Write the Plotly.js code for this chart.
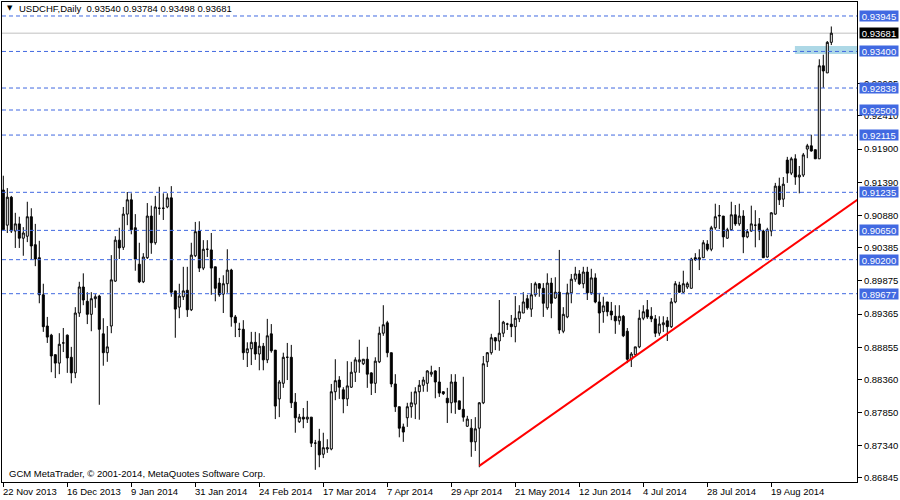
<!DOCTYPE html>
<html>
<head>
<meta charset="utf-8">
<script src="https://cdn.plot.ly/plotly-3.0.1.min.js"></script>
<style>
html,body{margin:0;padding:0;background:#fff;}
#chart{width:900px;height:500px;}
</style>
</head>
<body>
<div id="chart"></div>
<script>
// ---- Data: USDCHF daily bars, 22 Nov 2013 .. 2 Sep 2014 ----
const opens = [
0.9127,0.9073,0.9116,0.9064,0.9075,0.9053,0.9056,0.9086,0.9043,0.9023,
0.8966,0.8918,0.8904,0.8874,0.8861,0.8892,0.8904,0.8870,0.8846,0.8938,
0.8978,0.8956,0.8936,0.8960,0.8964,0.8906,0.8877,0.8918,0.8987,0.9050,
0.9039,0.9090,0.9112,0.9069,0.9013,0.8986,0.9023,0.9087,0.9046,0.9099,
0.9099,0.9101,0.9115,0.8972,0.8947,0.8963,0.8973,0.8943,0.9026,0.9064,
0.9007,0.9036,0.9035,0.9009,0.8984,0.8967,0.8983,0.9004,0.8932,0.8913,
0.8913,0.8877,0.8883,0.8893,0.8875,0.8887,0.8866,0.8906,0.8881,0.8806,
0.8830,0.8870,0.8870,0.8801,0.8771,0.8778,0.8775,0.8778,0.8738,0.8741,
0.8721,0.8729,0.8729,0.8817,0.8835,0.8820,0.8806,0.8824,0.8847,0.8863,
0.8860,0.8867,0.8846,0.8830,0.8863,0.8907,0.8923,0.8877,0.8829,0.8794,
0.8763,0.8777,0.8794,0.8798,0.8817,0.8827,0.8830,0.8844,0.8849,0.8832,
0.8817,0.8807,0.8800,0.8832,0.8803,0.8790,0.8764,0.8761,0.8740,0.8761,
0.8800,0.8863,0.8877,0.8900,0.8895,0.8907,0.8921,0.8921,0.8917,0.8929,
0.8938,0.8960,0.8944,0.8966,0.8983,0.8976,0.8946,0.8984,0.8961,0.8970,
0.8910,0.8932,0.8969,0.8990,0.8998,0.8983,0.9001,0.8969,0.8992,0.8955,
0.8940,0.8955,0.8941,0.8933,0.8926,0.8933,0.8910,0.8867,0.8874,0.8886,
0.8930,0.8943,0.8933,0.8929,0.8907,0.8920,0.8926,0.8917,0.8955,0.8981,
0.8970,0.8978,0.8976,0.9023,0.9020,0.9023,0.9044,0.9036,0.9069,0.9087,
0.9087,0.9053,0.9066,0.9089,0.9075,0.9087,0.9055,0.9064,0.9073,0.9075,
0.9064,0.9024,0.9064,0.9090,0.9133,0.9113,0.9173,0.9153,0.9175,0.9147,
0.9150,0.9190,0.9195,0.9189,0.9175,0.9318,0.9307,0.93540];
const highs = [
0.9149,0.9130,0.9118,0.9092,0.9086,0.9070,0.9109,0.9099,0.9075,0.9049,
0.8983,0.8932,0.8906,0.8874,0.8907,0.8915,0.8905,0.8886,0.8947,0.8986,
0.8999,0.8970,0.8970,0.8967,0.8966,0.8930,0.8918,0.9027,0.9056,0.9069,
0.9101,0.9124,0.9122,0.9090,0.9046,0.9030,0.9107,0.9103,0.9118,0.9132,
0.9122,0.9122,0.9133,0.8972,0.8983,0.9009,0.9009,0.9046,0.9078,0.9079,
0.9050,0.9050,0.9061,0.9009,0.8992,0.8996,0.9036,0.9006,0.8935,0.8923,
0.8927,0.8893,0.8909,0.8909,0.8907,0.8892,0.8929,0.8921,0.8881,0.8835,
0.8877,0.8892,0.8889,0.8815,0.8783,0.8792,0.8803,0.8778,0.8743,0.8760,
0.8754,0.8744,0.8829,0.8867,0.8841,0.8824,0.8864,0.8863,0.8870,0.8897,
0.8867,0.8886,0.8847,0.8870,0.8917,0.8950,0.8926,0.8877,0.8844,0.8794,
0.8768,0.8800,0.8817,0.8824,0.8835,0.8840,0.8850,0.8857,0.8850,0.8855,
0.8818,0.8823,0.8844,0.8844,0.8803,0.8840,0.8780,0.8775,0.8778,0.8801,
0.8872,0.8878,0.8906,0.8901,0.8958,0.8926,0.8923,0.8935,0.8964,0.8950,
0.8970,0.8966,0.8984,0.8986,0.8984,0.8984,0.8999,0.8992,0.8993,0.9035,
0.8947,0.8983,0.8998,0.9009,0.9004,0.9009,0.9009,0.9006,0.8999,0.8969,
0.8963,0.8955,0.8955,0.8950,0.8950,0.8935,0.8915,0.8878,0.8886,0.8943,
0.8950,0.8958,0.8947,0.8935,0.8933,0.8933,0.8932,0.8961,0.8987,0.8986,
0.9003,0.8986,0.9023,0.9030,0.9036,0.9050,0.9050,0.9072,0.9106,0.9104,
0.9087,0.9069,0.9109,0.9104,0.9106,0.9096,0.9067,0.9103,0.9096,0.9084,
0.9066,0.9069,0.9093,0.9138,0.9146,0.9147,0.9178,0.9178,0.9182,0.9164,
0.9184,0.9198,0.9212,0.9189,0.9328,0.9335,0.9356,0.93784];
const lows = [
0.9066,0.9061,0.9061,0.9038,0.9038,0.9026,0.9047,0.9020,0.9010,0.8953,
0.8909,0.8892,0.8847,0.8838,0.8844,0.8878,0.8846,0.8830,0.8838,0.8932,
0.8950,0.8921,0.8910,0.8946,0.8797,0.8857,0.8863,0.8907,0.8986,0.9021,
0.9035,0.9073,0.9059,0.9003,0.8984,0.8984,0.9021,0.9029,0.9043,0.9089,
0.9081,0.9099,0.8963,0.8900,0.8930,0.8958,0.8932,0.8941,0.9024,0.9001,
0.9004,0.9024,0.8966,0.8956,0.8963,0.8938,0.8969,0.8917,0.8901,0.8901,
0.8866,0.8855,0.8858,0.8866,0.8850,0.8850,0.8861,0.8877,0.8775,0.8778,
0.8823,0.8835,0.8792,0.8754,0.8769,0.8761,0.8769,0.8732,0.8697,0.8701,
0.8715,0.8723,0.8727,0.8804,0.8806,0.8784,0.8795,0.8823,0.8832,0.8846,
0.8858,0.8823,0.8812,0.8815,0.8861,0.8903,0.8870,0.8824,0.8786,0.8747,
0.8740,0.8763,0.8777,0.8775,0.8774,0.8817,0.8817,0.8840,0.8807,0.8809,
0.8812,0.8769,0.8784,0.8783,0.8789,0.8771,0.8763,0.8717,0.8726,0.8701,
0.8798,0.8855,0.8874,0.8881,0.8880,0.8901,0.8912,0.8901,0.8893,0.8924,
0.8938,0.8943,0.8932,0.8963,0.8963,0.8932,0.8943,0.8930,0.8960,0.8906,
0.8907,0.8930,0.8953,0.8986,0.8981,0.8976,0.8958,0.8966,0.8953,0.8907,
0.8923,0.8933,0.8927,0.8906,0.8920,0.8901,0.8861,0.8855,0.8874,0.8884,
0.8927,0.8929,0.8924,0.8901,0.8903,0.8909,0.8895,0.8915,0.8953,0.8969,
0.8969,0.8975,0.8976,0.9018,0.9004,0.9023,0.9033,0.9033,0.9066,0.9067,
0.9039,0.9052,0.9064,0.9072,0.9072,0.9030,0.9053,0.9063,0.9039,0.9050,
0.9023,0.9023,0.9056,0.9089,0.9104,0.9101,0.9138,0.9150,0.9135,0.9122,
0.9147,0.9176,0.9186,0.9175,0.9175,0.9284,0.9307,0.93498];
const closes = [
0.9066,0.9116,0.9064,0.9075,0.9053,0.9061,0.9086,0.9041,0.9021,0.8966,
0.8917,0.8901,0.8872,0.8861,0.8890,0.8892,0.8869,0.8846,0.8938,0.8978,
0.8958,0.8936,0.8960,0.8963,0.8913,0.8877,0.8886,0.8989,0.9050,0.9038,
0.9090,0.9112,0.9066,0.9021,0.8986,0.9024,0.9087,0.9046,0.9101,0.9099,
0.9099,0.9115,0.8970,0.8944,0.8964,0.8972,0.8943,0.9027,0.9063,0.9007,
0.9036,0.9036,0.9007,0.8976,0.8966,0.8983,0.9004,0.8932,0.8923,0.8913,
0.8877,0.8883,0.8893,0.8875,0.8887,0.8866,0.8903,0.8880,0.8795,0.8832,
0.8870,0.8870,0.8800,0.8777,0.8778,0.8775,0.8778,0.8738,0.8738,0.8720,
0.8731,0.8731,0.8817,0.8834,0.8824,0.8806,0.8826,0.8847,0.8866,0.8866,
0.8867,0.8844,0.8830,0.8864,0.8907,0.8920,0.8877,0.8829,0.8794,0.8761,
0.8755,0.8794,0.8800,0.8817,0.8827,0.8835,0.8849,0.8847,0.8832,0.8815,
0.8814,0.8800,0.8832,0.8801,0.8790,0.8778,0.8775,0.8740,0.8760,0.8800,
0.8860,0.8877,0.8900,0.8895,0.8907,0.8924,0.8921,0.8917,0.8930,0.8940,
0.8955,0.8946,0.8966,0.8983,0.8976,0.8953,0.8984,0.8953,0.8970,0.8912,
0.8936,0.8969,0.8990,0.8998,0.8983,0.9001,0.8969,0.8992,0.8955,0.8938,
0.8949,0.8940,0.8935,0.8926,0.8933,0.8903,0.8867,0.8875,0.8886,0.8930,
0.8940,0.8932,0.8929,0.8907,0.8921,0.8923,0.8917,0.8955,0.8983,0.8970,
0.8983,0.8983,0.9021,0.9020,0.9023,0.9046,0.9036,0.9069,0.9086,0.9088,
0.9055,0.9066,0.9089,0.9075,0.9087,0.9055,0.9063,0.9075,0.9073,0.9064,
0.9023,0.9066,0.9092,0.9133,0.9112,0.9136,0.9153,0.9175,0.9147,0.9150,
0.9181,0.9195,0.9187,0.9175,0.9318,0.9310,0.9354,0.93681];

// Date tick labels and the bar index each one sits on
const dateLabels = ['22 Nov 2013','16 Dec 2013','9 Jan 2014','31 Jan 2014','24 Feb 2014','17 Mar 2014',
  '7 Apr 2014','29 Apr 2014','21 May 2014','12 Jun 2014','4 Jul 2014','28 Jul 2014','19 Aug 2014'];
const dateBars = [0,16,32,48,64,80,96,112,128,144,160,176,192];

// Price axis ticks (those fully hidden behind level labels are omitted)
const priceTicks = [0.86845,0.87340,0.87850,0.88360,0.88855,0.89365,0.89875,0.90385,
  0.90880,0.91390,0.91900,0.92410,0.92905];

// Horizontal support/resistance levels (blue dashed)
const levels = [0.93945,0.93400,0.92838,0.92500,0.92115,0.91235,0.90650,0.90200,0.89677];
const lastPrice = 0.93681;

// Rising trend line (bar index, price)
const trendBars = [119, 213.5];
const trendPrices = [0.8703, 0.9112];

// Shaded zone near 0.9340
const zoneStartBar = 197.9;
const zoneLow = 0.93361, zoneHigh = 0.93484;

const title = 'USDCHF,Daily\u00a0\u00a00.93540 0.93784 0.93498 0.93681';
const copyright = 'GCM MetaTrader, \u00a9 2001-2014, MetaQuotes Software Corp.';

// ---- Build ----
const idx = opens.map((_, i) => i);
const FONT = 'Liberation Sans, Arial, sans-serif';
const BLUE = '#4169E1';

const traces = [
  {
    type: 'candlestick',
    x: idx, open: opens, high: highs, low: lows, close: closes,
    increasing: {line: {color: '#000', width: 1}, fillcolor: '#fff'},
    decreasing: {line: {color: '#000', width: 1}, fillcolor: '#000'},
    whiskerwidth: 0,
    hoverinfo: 'skip',
    showlegend: false
  },
  {
    type: 'scatter', mode: 'lines',
    x: trendBars, y: trendPrices,
    line: {color: '#FF0000', width: 2},
    hoverinfo: 'skip', showlegend: false
  }
];

const shapes = [
  {type: 'rect', xref: 'x', yref: 'y', x0: zoneStartBar, x1: 300, y0: zoneLow, y1: zoneHigh,
   fillcolor: '#ADD8E6', line: {width: 0}, layer: 'below'},
  {type: 'line', xref: 'paper', yref: 'y', x0: 0, x1: 1, y0: lastPrice, y1: lastPrice,
   line: {color: '#C0C0C0', width: 1}, layer: 'below'}
];
levels.forEach(v => shapes.push({
  type: 'line', xref: 'paper', yref: 'y', x0: 0, x1: 1, y0: v, y1: v,
  line: {color: BLUE, width: 1, dash: '4px,3px'}, layer: 'above'
}));

const annotations = [];
levels.forEach(v => annotations.push({
  xref: 'paper', yref: 'y', x: 1, y: v, xanchor: 'left', yanchor: 'middle', xshift: 2,
  text: v.toFixed(5), showarrow: false, bgcolor: BLUE, width: 38, height: 10, borderpad: 0,
  font: {family: FONT, size: 9.5, color: '#fff'}, align: 'center'
}));
annotations.push({
  xref: 'paper', yref: 'y', x: 1, y: lastPrice, xanchor: 'left', yanchor: 'middle', xshift: 2,
  text: lastPrice.toFixed(5), showarrow: false, bgcolor: '#000', width: 38, height: 10, borderpad: 0,
  font: {family: FONT, size: 9.5, color: '#fff'}, align: 'center'
});
dateBars.forEach((b, k) => annotations.push({
  xref: 'x', yref: 'paper', x: b, y: 0, xanchor: 'left', yanchor: 'top', xshift: -2, yshift: -2,
  text: dateLabels[k], showarrow: false, font: {family: FONT, size: 9.5, color: '#000'}
}));
annotations.push({
  xref: 'paper', yref: 'paper', x: 0, y: 1, xanchor: 'left', yanchor: 'top', xshift: 3, yshift: 0,
  text: '\u25BC', showarrow: false, font: {family: 'DejaVu Sans', size: 7, color: '#000'}
});
annotations.push({
  xref: 'paper', yref: 'paper', x: 0, y: 1, xanchor: 'left', yanchor: 'top', xshift: 15, yshift: 1,
  text: title, showarrow: false, font: {family: FONT, size: 9.5, color: '#000'}
});
annotations.push({
  xref: 'paper', yref: 'paper', x: 0, y: 0, xanchor: 'left', yanchor: 'bottom', xshift: 5, yshift: 1,
  text: copyright, showarrow: false, font: {family: FONT, size: 9.5, color: '#000'}
});

const layout = {
  width: 900, height: 500,
  margin: {l: 2, r: 43, t: 2, b: 18, pad: 0},
  paper_bgcolor: '#fff', plot_bgcolor: '#fff',
  showlegend: false,
  boxgap: 0.5, boxgroupgap: 0,
  xaxis: {
    type: 'linear', range: [-0.325, 213.425], fixedrange: true,
    rangeslider: {visible: false},
    showgrid: false, zeroline: false,
    showline: true, mirror: true, linecolor: '#000', linewidth: 1,
    tickmode: 'array', tickvals: dateBars, ticktext: dateBars.map(() => ''),
    ticks: 'outside', ticklen: 4, tickcolor: '#000', tickwidth: 1,
    showticklabels: false
  },
  yaxis: {
    side: 'right', range: [0.86783, 0.94160], fixedrange: true,
    showgrid: false, zeroline: false,
    showline: true, mirror: true, linecolor: '#000', linewidth: 1,
    tickmode: 'array', tickvals: priceTicks, ticktext: priceTicks.map(v => v.toFixed(5)),
    ticks: 'outside', ticklen: 4, tickcolor: '#000', tickwidth: 1,
    tickfont: {family: FONT, size: 9.5, color: '#000'}
  },
  shapes: shapes,
  annotations: annotations
};

Plotly.newPlot('chart', traces, layout, {staticPlot: true, displayModeBar: false});
</script>
</body>
</html>
